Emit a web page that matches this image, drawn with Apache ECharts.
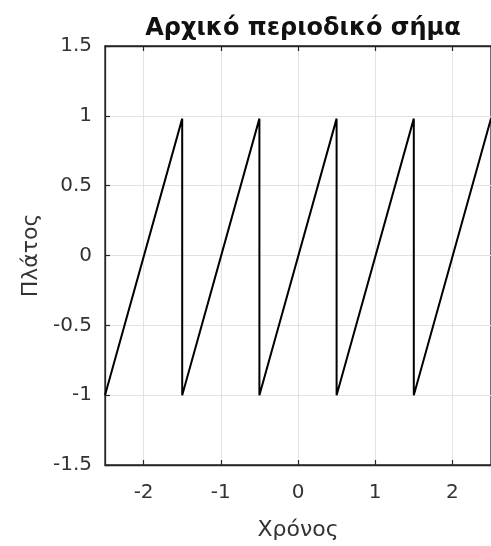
<!DOCTYPE html>
<html><head><meta charset="utf-8">
<script src="https://cdn.jsdelivr.net/npm/echarts@6/dist/echarts.min.js"></script>
<style>html,body{margin:0;padding:0;background:#fff}#c{width:491px;height:546px}</style>
</head><body><div id="c"></div>
<script>
const tValues = [-2.5, -1.5, -1.5, -0.5, -0.5, 0.5, 0.5, 1.5, 1.5, 2.5];
const yValues = [-1, 0.98, -1, 0.98, -1, 0.98, -1, 0.98, -1, 0.98];
const xTicks = [-2, -1, 0, 1, 2];
const titleText = 'Αρχικό περιοδικό σήμα';
const xLabel = 'Χρόνος';
const yLabel = 'Πλάτος';

const chart = echarts.init(document.getElementById('c'));
const font = 'DejaVu Sans, sans-serif';
const axisCommon = {
  axisLine: {show: true, onZero: false, lineStyle: {color: '#262626', width: 1.3}},
  axisTick: {show: true, inside: true, length: 5, lineStyle: {color: '#262626', width: 1.2}},
  splitLine: {show: true, lineStyle: {color: '#e2e2e2', width: 1}},
  axisLabel: {color: '#333', fontSize: 20, fontFamily: font},
  nameTextStyle: {color: '#333', fontSize: 22, fontFamily: font}
};
chart.setOption({
  animation: false,
  title: {text: titleText, left: 298, textAlign: 'center', top: 12,
    textStyle: {fontSize: 24, fontWeight: 'bold', color: '#111', fontFamily: font}},
  grid: {left: 105, right: -3, top: 46, bottom: 79, show: true, borderColor: '#262626', borderWidth: 1.3},
  xAxis: [
    Object.assign({}, axisCommon, {type: 'value', min: -2.5, max: 2.5,
      name: xLabel, nameLocation: 'middle', nameGap: 54,
      axisTick: Object.assign({}, axisCommon.axisTick, {customValues: xTicks}),
      axisLabel: Object.assign({}, axisCommon.axisLabel, {margin: 18, customValues: xTicks})}),
    {type: 'value', min: -2.5, max: 2.5, position: 'top',
      axisLine: {show: true, onZero: false, lineStyle: {color: '#262626', width: 1.3}},
      axisTick: {show: true, inside: true, length: 5, customValues: xTicks, lineStyle: {color: '#262626', width: 1.2}},
      axisLabel: {show: false}, splitLine: {show: false}}
  ],
  yAxis: Object.assign({}, axisCommon, {type: 'value', min: -1.5, max: 1.5, interval: 0.5,
    name: yLabel, nameLocation: 'middle', nameGap: 62,
    axisLabel: Object.assign({}, axisCommon.axisLabel, {margin: 13})}),
  series: [{type: 'line', xAxisIndex: 0, data: tValues.map((t, i) => [t, yValues[i]]), showSymbol: false,
    lineStyle: {color: '#000', width: 2}}]
});
</script></body></html>
